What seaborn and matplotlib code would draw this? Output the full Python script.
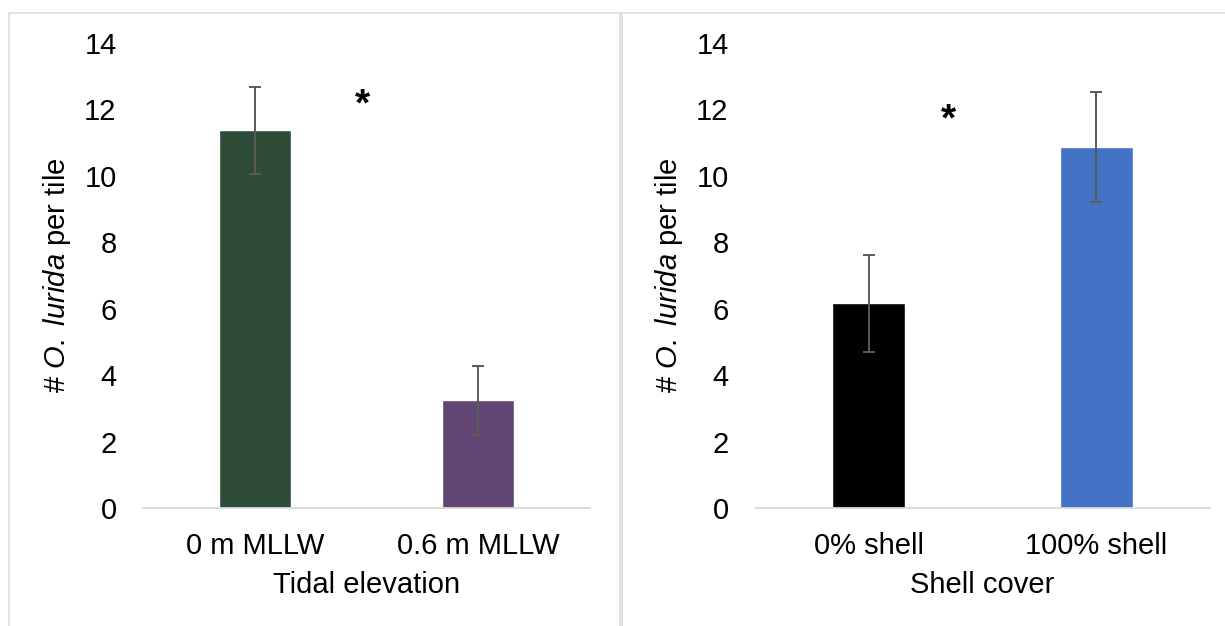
import matplotlib
matplotlib.use('Agg')
import matplotlib.pyplot as plt
from matplotlib.patches import Rectangle
import seaborn as sns

# Daten
tidal_cats = ['0 m MLLW', '0.6 m MLLW']
tidal_means = [11.38, 3.25]
tidal_err = [1.31, 1.04]
tidal_colors = ['#2F4C39', '#614572']

shell_cats = ['0% shell', '100% shell']
shell_means = [6.17, 10.87]
shell_err = [1.46, 1.65]
shell_colors = ['#000000', '#4472C4']

yticks = [0, 2, 4, 6, 8, 10, 12, 14]

sns.set_theme(style='white')
plt.rcParams['font.family'] = ['Liberation Sans', 'DejaVu Sans']
plt.rcParams['mathtext.fontset'] = 'custom'
plt.rcParams['mathtext.it'] = 'Liberation Sans:italic'
plt.rcParams['mathtext.rm'] = 'Liberation Sans'

fs = 21
fig = plt.figure(figsize=(12.25, 6.26), dpi=100)

# Rahmen der beiden Diagrammbereiche
W, H = 1225, 626
for x0, x1 in [(9, 620), (622, 1240)]:
    fig.add_artist(Rectangle((x0 / W, -0.05), (x1 - x0) / W, 1.05 - 13 / H,
                             transform=fig.transFigure, fill=False,
                             edgecolor='#DDDDDD', lw=1.2))

ax1 = fig.add_axes([143 / W, 1 - 508 / H, (590 - 143) / W, (508 - 43) / H])
ax2 = fig.add_axes([755 / W, 1 - 508 / H, (1210 - 755) / W, (508 - 43) / H])

panels = [
    (ax1, tidal_cats, tidal_means, tidal_err, tidal_colors, 'Tidal elevation', (0.48, 12.13)),
    (ax2, shell_cats, shell_means, shell_err, shell_colors, 'Shell cover', (0.35, 11.68)),
]

for ax, cats, means, errs, cols, xlabel, star in panels:
    sns.barplot(x=cats, y=means, hue=cats, palette=cols, legend=False,
                width=0.32, saturation=1, ax=ax)
    ax.errorbar(range(len(cats)), means, yerr=errs, fmt='none',
                ecolor='#5A5A5A', elinewidth=1.4, capsize=4.5, capthick=1.4)
    ax.set_ylim(0, 14)
    ax.set_xlim(-0.5, 1.5)
    ax.set_yticks(yticks)
    ax.set_yticklabels([str(t) for t in yticks], fontsize=fs, color='black')
    ax.tick_params(axis='y', length=0, pad=19)
    ax.tick_params(axis='x', length=0, pad=17, labelsize=fs, labelcolor='black')
    ax.set_xlabel(xlabel, fontsize=fs, labelpad=8, color='black')
    ax.set_ylabel(r'# $\it{O.}$ $\it{lurida}$ per tile', fontsize=fs, labelpad=8, color='black')
    for s in ['left', 'right', 'top']:
        ax.spines[s].set_visible(False)
    ax.spines['bottom'].set_color('#D9D9D9')
    ax.spines['bottom'].set_linewidth(1.3)
    ax.text(star[0], star[1], '*', fontsize=28, fontweight='bold',
            ha='center', va='center', color='black')

fig.savefig('out.png', dpi=100)
